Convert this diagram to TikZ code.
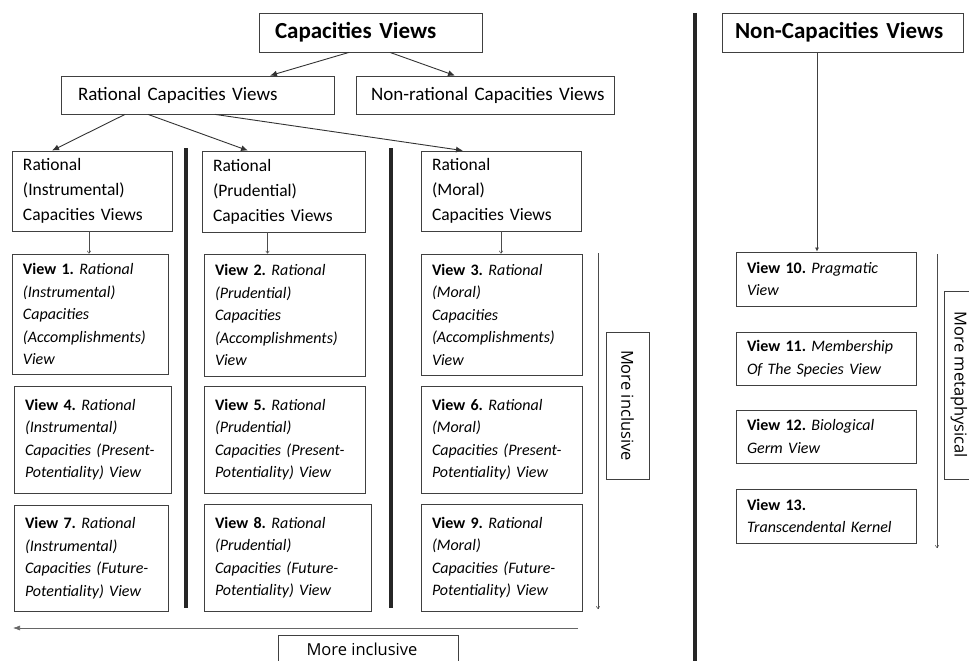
\documentclass[tikz,border=0pt]{standalone}
\usepackage{fontspec}
\setmainfont{Carlito}[WordSpace=0.8]
\newfontfamily\labelfont{Open Sans}
\usetikzlibrary{arrows.meta}
\frenchspacing
\tikzset{
  cvb/.style={draw=black!75, line width=0.8pt, align=left, inner xsep=11pt, inner ysep=0pt},
  viewf/.style={font=\fontsize{16}{22.5}\selectfont},
  headf/.style={font=\fontsize{17.5}{25}\selectfont},
  mainf/.style={font=\fontsize{19}{23}\selectfont},
  topf/.style={font=\bfseries\fontsize{23}{26}\selectfont},
  arr/.style={draw=black!80, line width=0.9pt, -{Latex[length=7pt,width=6pt]}},
  marr/.style={draw=black!75, line width=0.7pt, -{Latex[length=4pt,width=4pt]}},
  sarr/.style={draw=black!70, line width=0.5pt, -{To[length=3pt,width=4pt]}},
  larr/.style={draw=black!60, line width=0.6pt, -{Latex[length=7pt,width=5pt]}},
  sepbar/.style={draw=black!85, line width=4pt},
  lblf/.style={font=\labelfont\fontsize{16.5}{20}\selectfont, inner sep=0pt},
  lbl/.style={lblf, draw=black!75, line width=0.8pt}
}
% box from (x1,y1) to (x2,y2), y counted downwards
\newcommand{\cvbox}[7][]{%
  \pgfmathsetmacro{\cvw}{#5-#3-22}%
  \node[cvb,#1,text width=\cvw pt,minimum height={#6-#4}] (#2) at ({(#3+#5)/2},{(#4+#6)/2}) {#7};}
\newcommand{\vlab}[1]{\textbf{View #1.}\itshape}

\begin{document}
\begin{tikzpicture}[x=1pt,y=-1pt]
  \path[use as bounding box] (0,0) rectangle (969,661);
  \clip (0,0) rectangle (969,661);

  % top level
  \cvbox[topf]{cv}{259}{13}{482}{52}{\hspace*{5pt}Capacities Views}
  \cvbox[mainf]{rcv}{61}{76}{334}{114}{\hspace*{6pt}Rational Capacities Views}
  \cvbox[mainf]{ncv}{356}{76}{614}{114}{\hspace*{4pt}\mbox{Non-rational Capacities Views}}
  \cvbox[topf]{ncp}{722}{13}{963}{52}{\hspace*{2pt}Non-Capacities Views}

  % column heads
  \cvbox[headf]{ins}{12}{151}{172}{231}{Rational\\(Instrumental)\\Capacities Views}
  \cvbox[headf]{pru}{202}{151}{365}{232}{Rational\\(Prudential)\\Capacities Views}
  \cvbox[headf]{mor}{421}{151}{581}{231}{Rational\\(Moral)\\Capacities Views}

  % views
  \cvbox[viewf]{v1}{12}{254}{168}{374}{\vlab{1} Rational\\(Instrumental)\\Capacities\\(Accomplishments)\\View}
  \cvbox[viewf]{v4}{14}{386}{171}{493}{\vlab{4} Rational\\(Instrumental)\\Capacities (Present-\\Potentiality) View}
  \cvbox[viewf]{v7}{14}{505}{168}{611}{\vlab{7} Rational\\(Instrumental)\\Capacities (Future-\\Potentiality) View}
  \cvbox[viewf]{v2}{204}{254}{365}{376}{\vlab{2} Rational\\(Prudential)\\Capacities\\(Accomplishments)\\View}
  \cvbox[viewf]{v5}{204}{386}{365}{493}{\vlab{5} Rational\\(Prudential)\\Capacities (Present-\\Potentiality) View}
  \cvbox[viewf]{v8}{204}{504}{371}{611}{\vlab{8} Rational\\(Prudential)\\Capacities (Future-\\Potentiality) View}
  \cvbox[viewf]{v3}{421}{254}{582}{375}{\vlab{3} Rational\\(Moral)\\Capacities\\(Accomplishments)\\View}
  \cvbox[viewf]{v6}{421}{386}{582}{493}{\vlab{6} Rational\\(Moral)\\Capacities (Present-\\Potentiality) View}
  \cvbox[viewf]{v9}{421}{504}{582}{611}{\vlab{9} Rational\\(Moral)\\Capacities (Future-\\Potentiality) View}
  \cvbox[viewf]{v10}{736}{252}{916}{306}{\vlab{10} Pragmatic\\View}
  \cvbox[viewf]{v11}{736}{332}{916}{385}{\vlab{11} Membership\\Of The Species View}
  \cvbox[viewf]{v12}{736}{410}{916}{463}{\vlab{12} Biological\\Germ View}
  \cvbox[viewf]{v13}{736}{489}{916}{543}{\vlab{13}\\Transcendental Kernel}

  % side labels
  \node[lbl, rotate=-90, minimum width=147, minimum height=43] (incv) at (627.5,405.5) {More inclusive};
  \node[lbl, rotate=-90, minimum width=188, minimum height=30] (meta) at (959,385) {More metaphysical};
  \node[lblf] (inch) at (362,649) {More inclusive};
  \draw[draw=black!75, line width=0.8pt] (278,665) |- (458,635) -- (458,665);

  % separators
  \draw[sepbar] (186,148) -- (186,608);
  \draw[sepbar] (391,148) -- (391,608);
  \draw[sepbar] (695,13) -- (695,670);

  % tree arrows
  \draw[arr] ([xshift=-21.5pt]cv.south) -- ([xshift=72.5pt]rcv.north);
  \draw[arr] ([xshift=19.5pt]cv.south) -- ([xshift=-30pt]ncv.north);
  \draw[arr] ([xshift=-72.5pt]rcv.south) -- ([xshift=-40pt]ins.north);
  \draw[arr] ([xshift=-49.5pt]rcv.south) -- ([xshift=-35.5pt]pru.north);
  \draw[arr] ([xshift=17.5pt]rcv.south) -- ([xshift=-38pt]mor.north);
  \draw[sarr] ([xshift=-3pt]ins.south) -- ([xshift=-3pt]ins.south |- v1.north);
  \draw[sarr] ([xshift=-16pt]pru.south) -- ([xshift=-16pt]pru.south |- v2.north);
  \draw[sarr] (mor.south) -- (mor.south |- v3.north);
  \draw[marr] ([xshift=-25.5pt]ncp.south) -- ([xshift=-25.5pt]ncp.south |- v10.north);

  % scale arrows
  \coordinate (incs) at (598,253);
  \coordinate (ince) at (598,609);
  \coordinate (bots) at (578,628);
  \coordinate (bote) at (13,628);
  \coordinate (mets) at (937,254);
  \coordinate (mete) at (937,548);
  \draw[sarr] (incs) -- (ince);
  \draw[larr] (bots) -- (bote);
  \draw[sarr] (mets) -- (mete);
\end{tikzpicture}
\end{document}
